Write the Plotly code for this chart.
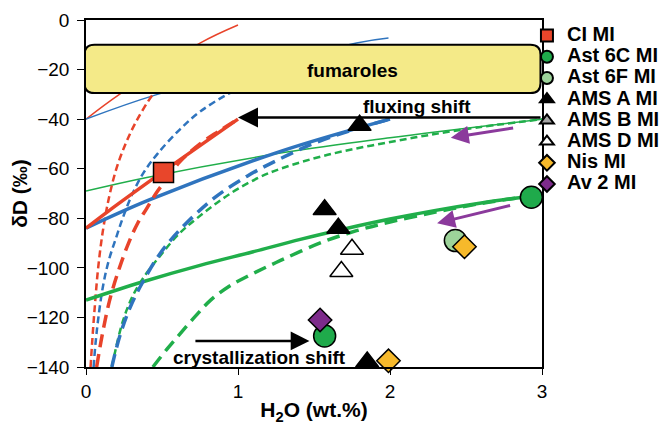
import plotly.graph_objects as go

FONT = "Arial, 'Liberation Sans', Helvetica, sans-serif"

# ---------------- model curves (H2O wt.%, dD permil) ----------------
red_thin_x = [0, 0.22, 0.75, 1.0]
red_thin_y = [-40, -30, -9.3, -2]
blue_thin_x = [0, 0.47, 1.78, 1.99]
blue_thin_y = [-40, -30, -9.3, -7.3]
green_thin_x = [0, 0.4, 1.3, 2.0, 3.0]
green_thin_y = [-69, -63.5, -53.5, -47.5, -40]

red_thin_dash_x = [0.03, 0.045, 0.06, 0.08, 0.11, 0.15, 0.2, 0.26, 0.33, 0.44, 0.5]
red_thin_dash_y = [-140, -126, -114, -100, -85.5, -72, -60, -50, -41, -30, -26]
blue_thin_dash_x = [0.05, 0.07, 0.11, 0.15, 0.2, 0.25, 0.31, 0.38, 0.47, 0.62, 0.75, 0.93, 1.1]
blue_thin_dash_y = [-140, -126, -108, -97, -87.5, -78.5, -69.5, -61.5, -54, -44, -37, -30, -25]
green_thin_dash_x = [0.17, 0.24, 0.31, 0.4, 0.49, 0.6, 0.73, 0.95, 1.14, 1.28, 1.59, 2.02, 2.46, 3.0]
green_thin_dash_y = [-140, -122, -111, -102, -95, -87, -80, -70, -63.5, -60, -54.4, -49, -44.4, -40]

red_thick_x = [0, 0.15, 0.5, 1.0]
red_thick_y = [-84, -77, -61.5, -40]
blue_thick_x = [0, 0.42, 1.28, 2.0]
blue_thick_y = [-84, -72.5, -53, -40]
green_thick_x = [0, 0.38, 0.75, 1.1, 1.41, 1.72, 2.0, 2.3, 2.6, 2.93]
green_thick_y = [-113, -105.5, -99, -93.5, -88.5, -84, -80.3, -76.8, -73.8, -71]

red_thick_dash_x = [0.07, 0.11, 0.16, 0.22, 0.28, 0.34, 0.40, 0.46, 0.52, 0.62, 0.75, 0.87, 1.0]
red_thick_dash_y = [-140, -126, -112, -100, -90, -82, -76, -70, -65, -57, -50, -45, -40]
blue_thick_dash_x = [0.17, 0.22, 0.29, 0.38, 0.49, 0.62, 0.84, 1.06, 1.26, 1.49, 1.72, 2.0]
blue_thick_dash_y = [-140, -128, -116, -105, -94, -84.5, -72, -63, -56.5, -50, -45, -40]
green_thick_dash_x = [0.44, 0.53, 0.62, 0.72, 0.82, 0.94, 1.06, 1.28, 1.56, 1.78, 2.0, 2.3, 2.6, 2.93]
green_thick_dash_y = [-140, -133, -126.5, -119.5, -113, -107.5, -103.5, -97, -89.5, -85, -81.5, -77.5, -74, -71]

# ---------------- melt inclusion data ----------------
ci_x, ci_y = [0.51], [-61.5]
ast6c_x, ast6c_y = [2.93, 1.57], [-71.5, -127.5]
ast6f_x, ast6f_y = [2.43], [-89]
amsa_x, amsa_y = [1.80, 1.57, 1.66, 1.85], [-42.5, -76.5, -84, -138]
amsb_x, amsb_y = [None], [None]
amsd_x, amsd_y = [1.75, 1.68], [-92.5, -101.5]
nis_x, nis_y = [2.49, 1.99], [-91.5, -137.5]
av2_x, av2_y = [1.54], [-121]

x_ticks = [0, 1, 2, 3]
y_ticks = [0, -20, -40, -60, -80, -100, -120, -140]

RED, BLUE, GREEN = "#E8432A", "#2F74BE", "#20AE4A"

fig = go.Figure()

def curve(x, y, color, width, dash=None):
    fig.add_trace(go.Scatter(x=x, y=y, mode="lines", showlegend=False, hoverinfo="skip",
                             line=dict(color=color, width=width, dash=dash, shape="spline")))

thin_dash = "7px,4px"
thick_dash = "13px,7px"
curve(red_thin_x, red_thin_y, RED, 1.5)
curve(blue_thin_x, blue_thin_y, BLUE, 1.5)
curve(green_thin_x, green_thin_y, GREEN, 1.5)
curve(red_thin_dash_x, red_thin_dash_y, RED, 2.5, thin_dash)
curve(green_thin_dash_x, green_thin_dash_y, GREEN, 2.5, thin_dash)
curve(blue_thin_dash_x, blue_thin_dash_y, BLUE, 2.5, thin_dash)
curve(green_thick_x, green_thick_y, GREEN, 3.5)
curve(green_thick_dash_x, green_thick_dash_y, GREEN, 3.5, thick_dash)
curve(blue_thick_x, blue_thick_y, BLUE, 3.5)
curve(blue_thick_dash_x, blue_thick_dash_y, BLUE, 3.5, thick_dash)
curve(red_thick_x, red_thick_y, RED, 3.5)
curve(red_thick_dash_x, red_thick_dash_y, RED, 3.5, thick_dash)

def pts(x, y, name, symbol, color, size):
    fig.add_trace(go.Scatter(
        x=x, y=y, mode="markers", cliponaxis=False,
        name='<span style="font-size:20px">' + name + '</span>',
        marker=dict(symbol=symbol, color=color, size=size, line=dict(color="black", width=1.5))))

pts(ci_x, ci_y, "CI MI", "square", "#E8462B", 20)
pts(ast6c_x, ast6c_y, "Ast 6C MI", "circle", "#1FAA4B", 22)
pts(ast6f_x, ast6f_y, "Ast 6F MI", "circle", "#9DD39A", 22)
pts(amsa_x, amsa_y, "AMS A MI", "triangle-up", "black", 20)
pts(amsb_x, amsb_y, "AMS B MI", "triangle-up", "#A6A6A6", 20)
pts(amsd_x, amsd_y, "AMS D MI", "triangle-up", "white", 20)
pts(nis_x, nis_y, "Nis MI", "diamond", "#F6B92B", 18)
pts(av2_x, av2_y, "Av 2 MI", "diamond", "#7D2B8B", 18)

# ---------------- fumaroles box (rounded rectangle) ----------------
bx0, bx1, by0, by1 = -0.01, 2.99, -29.5, -10.0
rx, ry = 0.066, 4.0
path = (f"M{bx0+rx},{by1} L{bx1-rx},{by1} Q{bx1},{by1} {bx1},{by1-ry} "
        f"L{bx1},{by0+ry} Q{bx1},{by0} {bx1-rx},{by0} L{bx0+rx},{by0} "
        f"Q{bx0},{by0} {bx0},{by0+ry} L{bx0},{by1-ry} Q{bx0},{by1} {bx0+rx},{by1} Z")
fig.add_shape(type="path", path=path, xref="x", yref="y", layer="above",
              fillcolor="#F4EA88", line=dict(color="black", width=2))

bold = dict(family=FONT, size=19, color="black", weight="bold")
fig.add_annotation(x=1.75, y=-20.3, text="fumaroles", showarrow=False, font=bold)
fig.add_annotation(x=2.18, y=-35.0, text="fluxing shift", showarrow=False, font=bold)
fig.add_annotation(x=1.14, y=-136.3, text="crystallization shift", showarrow=False, font=bold)

def arrow(x0, y0, x1, y1, color, width, size):
    fig.add_annotation(x=x1, y=y1, ax=x0, ay=y0, xref="x", yref="y", axref="x", ayref="y",
                       text="", showarrow=True, arrowhead=2, arrowsize=size,
                       arrowwidth=width, arrowcolor=color, standoff=0)

arrow(3.0, -39.3, 1.0, -39.3, "black", 2.5, 1.6)
arrow(0.71, -129.5, 1.47, -129.5, "black", 2.5, 1.5)
arrow(2.82, -43.5, 2.40, -47.5, "#8B3A9C", 3, 1.2)
arrow(2.80, -74.7, 2.31, -82.0, "#8B3A9C", 3, 1.2)

# page body has an 8px default margin, so the figure is 8px smaller than the window
fig.update_layout(
    width=659, height=420,
    margin=dict(l=78, r=125, t=12, b=61, autoexpand=False),
    paper_bgcolor="white", plot_bgcolor="white",
    font=dict(family=FONT, color="black"),
    showlegend=True,
    legend=dict(x=0.967, y=1.0, xanchor="left", yanchor="top",
                font=dict(family=FONT, size=14, color="black", weight="bold"),
                bgcolor="rgba(0,0,0,0)", itemsizing="constant", itemwidth=30,
                tracegroupgap=0),
    xaxis=dict(range=[0, 3], tickvals=x_ticks, showgrid=False, zeroline=False,
               automargin=False,
               showline=True, linecolor="black", linewidth=1.5, mirror=True,
               ticks="outside", ticklen=6, tickcolor="black", tickwidth=1.2,
               tickfont=dict(family=FONT, size=19), ticklabelstandoff=0,
               title=dict(text="H<sub>2</sub>O (wt.%)", standoff=2,
                          font=dict(family=FONT, size=21, weight="bold"))),
    yaxis=dict(range=[-140, 0], tickvals=y_ticks, showgrid=False, zeroline=False,
               automargin=False,
               showline=True, linecolor="black", linewidth=1.5, mirror=True,
               ticks="outside", ticklen=7, tickcolor="black", tickwidth=1.2,
               tickfont=dict(family=FONT, size=19), ticklabelstandoff=4,
               title=dict(text="δD (‰)", standoff=1,
                          font=dict(family=FONT, size=21, weight="bold"))),
)

fig.write_html("out.html")
